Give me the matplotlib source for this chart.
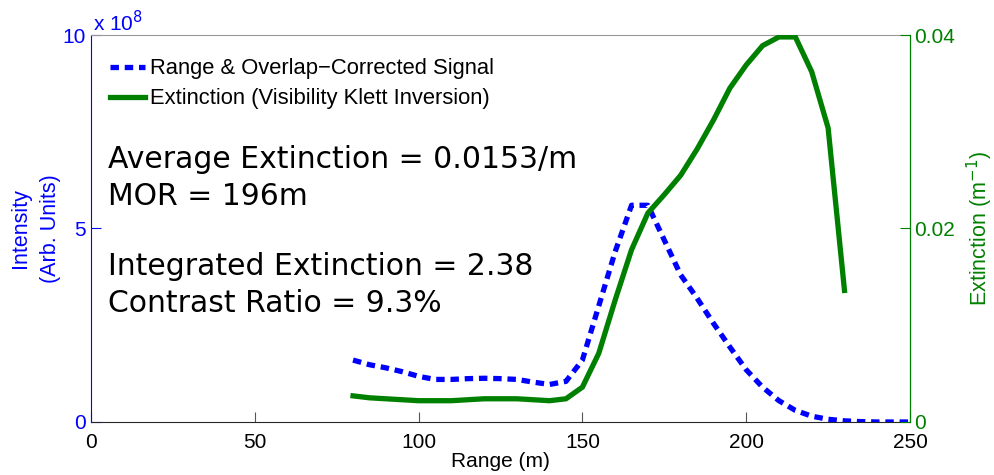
import matplotlib
matplotlib.use("Agg")
import matplotlib.pyplot as plt

plt.rcParams['font.family'] = ['Liberation Sans', 'DejaVu Sans']

# Range-corrected lidar signal (units of 1e8) and Klett extinction profile
signal_range = [80, 85, 90, 95, 100, 105, 110, 115, 120, 125, 130, 135, 140, 145,
                150, 155, 160, 165, 170, 175, 180, 185, 190, 195, 200, 205, 210,
                215, 220, 225, 230, 235, 240, 245, 250]
signal = [1.6, 1.48, 1.4, 1.3, 1.18, 1.1, 1.1, 1.12, 1.13, 1.12, 1.1, 1.03, 0.97, 1.05,
          1.6, 3.0, 4.4, 5.6, 5.6, 4.7, 3.8, 3.2, 2.55, 1.94, 1.35, 0.9, 0.55,
          0.3, 0.15, 0.07, 0.03, 0.01, 0.0, 0.0, 0.0]

ext_range = [80, 85, 90, 95, 100, 105, 110, 115, 120, 125, 130, 135, 140, 145,
             150, 155, 160, 165, 170, 175, 180, 185, 190, 195, 200, 205, 210,
             215, 220, 225, 230]
extinction = [0.0027, 0.0025, 0.0024, 0.0023, 0.0022, 0.0022, 0.0022, 0.0023, 0.0024,
              0.0024, 0.0024, 0.0023, 0.0022, 0.0024, 0.0036, 0.0071, 0.0126, 0.0178,
              0.0216, 0.0235, 0.0255, 0.0282, 0.0312, 0.0345, 0.0369, 0.0389, 0.0398,
              0.0398, 0.0362, 0.0304, 0.0136]

labels = ["Range & Overlap\u2212Corrected Signal", "Extinction (Visibility Klett Inversion)"]

BLUE = "#0000ff"
GREEN = "#008000"
FS = 15

fig = plt.figure(figsize=(9.94, 4.75), dpi=100)
ax = fig.add_axes([0.0915, 0.1116, 0.824, 0.8147])
ax2 = ax.twinx()

l1, = ax.plot(signal_range, signal, color=BLUE, lw=3.8, linestyle=(0, (1.6, 1.1)),
              dash_capstyle='butt', zorder=3)
l2, = ax2.plot(ext_range, extinction, color=GREEN, lw=3.8, solid_joinstyle='miter')

ax.set_xlim(0, 250)
ax.set_ylim(0, 10)
ax2.set_ylim(0, 0.04)

ax.set_xticks([0, 50, 100, 150, 200, 250])
ax.set_yticks([0, 5, 10])
ax2.set_yticks([0, 0.02, 0.04])
ax2.set_yticklabels(["0", "0.02", "0.04"])

for a in (ax, ax2):
    a.tick_params(direction='in', length=7, width=0.8, labelsize=FS)
ax.tick_params(axis='x', colors='#555555', labelcolor='black', pad=8)
ax.tick_params(axis='y', colors=BLUE, labelcolor=BLUE, pad=4)
ax2.tick_params(axis='y', colors=GREEN, labelcolor=GREEN, pad=3)

ax.spines['left'].set_color(BLUE)
ax.spines['bottom'].set_color('#262626')
ax.spines['top'].set_color('#999999')
ax2.spines['right'].set_color(GREEN)
ax2.spines['left'].set_visible(False)
ax2.spines['top'].set_visible(False)
ax2.spines['bottom'].set_visible(False)

ax.set_xlabel("Range (m)", fontsize=FS, labelpad=0)
ax.set_ylabel("Intensity\n(Arb. Units)", fontsize=15.5, color=BLUE,
              linespacing=1.55)
ax.yaxis.set_label_coords(-0.037, 0.5)
ax2.set_ylabel("Extinction (m$^{-1}$)", fontsize=15.5, color=GREEN, labelpad=7)

ax.text(0.003, 1.0, r"x 10$^{8}$", transform=ax.transAxes, fontsize=FS,
        color=BLUE, ha='left', va='bottom')

ax.legend([l1, l2], labels, loc='upper left', frameon=False, fontsize=15.8,
          handlelength=1.6, handletextpad=0.2, borderaxespad=0.0,
          labelspacing=0.4, bbox_to_anchor=(0.013, 0.962))

annot_font = ['DejaVu Sans']
ax.text(0.021, 0.56, "Average Extinction = 0.0153/m\nMOR = 196m",
        transform=ax.transAxes, fontsize=21.5, va='baseline', ha='left',
        linespacing=1.35, family=annot_font)
ax.text(0.021, 0.285, "Integrated Extinction = 2.38\nContrast Ratio = 9.3%",
        transform=ax.transAxes, fontsize=21.5, va='baseline', ha='left',
        linespacing=1.35, family=annot_font)

fig.savefig("out.png", dpi=100)
